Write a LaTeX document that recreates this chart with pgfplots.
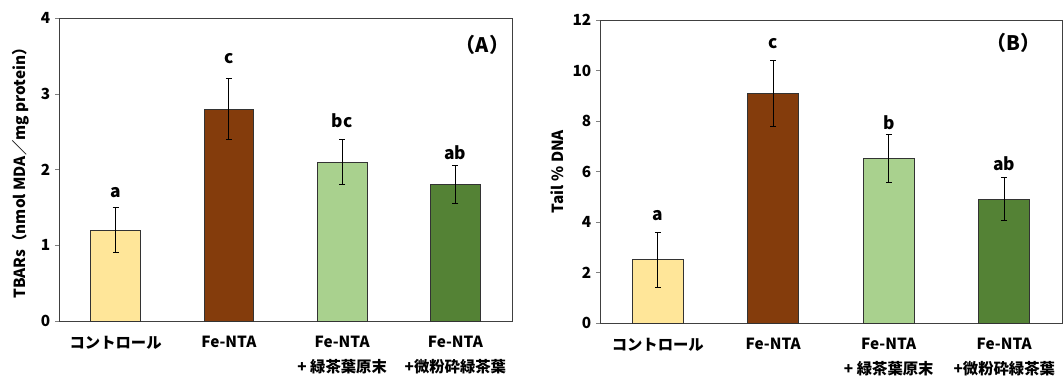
\documentclass[border=0pt]{standalone}
\usepackage{fontspec}
\setmainfont{Noto Sans CJK JP}
\usepackage{pgfplots}
\pgfplotsset{compat=1.18}
\definecolor{cY}{HTML}{FFE699}
\definecolor{cBr}{HTML}{843C0C}
\definecolor{cLG}{HTML}{A9D18E}
\definecolor{cDG}{HTML}{548235}
\pgfplotsset{
  mybar/.style={
    scale only axis,
    xmin=-0.5, xmax=3.5,
    ymin=0,
    xtick={0,1,2,3},
    xticklabels={コントロール,Fe-NTA,Fe-NTA\\+ 緑茶葉原末,Fe-NTA\\+微粉砕緑茶葉},
    x tick label style={align=center, anchor=north, yshift=-5pt, font=\fontsize{11.5}{18.5}\selectfont\bfseries},
    y tick label style={font=\fontsize{11.5}{13}\selectfont\bfseries},
    /pgf/number format/assume math mode=true,
    major x tick style={draw=none},
    ytick pos=left, xtick pos=bottom,
    tick align=outside,
    major tick length=3pt,
    axis line style={black!75},
    ylabel style={font=\fontsize{11.5}{13}\selectfont\bfseries},
    ybar, bar width=0.44,
    bar shift=0pt,
    every axis plot/.append style={draw=black!80, line width=0.6pt},
    error bars/y dir=both, error bars/y explicit,
    error bars/error bar style={black, line width=0.6pt},
    error bars/error mark options={rotate=90, mark size=2.2pt, black, line width=0.6pt},
  }
}
\begin{document}
\begin{tikzpicture}[x=1pt,y=1pt]
\useasboundingbox (0,0) rectangle (798,282);
\begin{axis}[mybar, at={(44.25pt,41.25pt)}, anchor=south west,
  width=339.75pt, height=227.25pt,
  ymax=4, ytick={0,1,2,3,4},
  ylabel={TBARs（nmol MDA／mg protein）},
  ylabel style={yshift=2pt}]
\addplot[fill=cY] coordinates {(0,1.2) +- (0,0.3)};
\addplot[fill=cBr] coordinates {(1,2.8) +- (0,0.4)};
\addplot[fill=cLG] coordinates {(2,2.1) +- (0,0.3)};
\addplot[fill=cDG] coordinates {(3,1.8) +- (0,0.25)};
\node[font=\fontsize{13}{15}\selectfont\bfseries] at (axis cs:0,1.70) {a};
\node[font=\fontsize{13}{15}\selectfont\bfseries] at (axis cs:1,3.47) {c};
\node[font=\fontsize{13}{15}\selectfont\bfseries] at (axis cs:2,2.64) {bc};
\node[font=\fontsize{13}{15}\selectfont\bfseries] at (axis cs:3,2.22) {ab};
\node[font=\fontsize{15}{17}\selectfont\bfseries] at (axis cs:3.24,3.64) {（A）};
\end{axis}
\begin{axis}[mybar, at={(450pt,39.75pt)}, anchor=south west,
  width=346.5pt, height=227.25pt,
  ymax=12, ytick={0,2,4,6,8,10,12},
  ylabel={Tail \% DNA},
  ylabel style={yshift=0pt}]
\addplot[fill=cY] coordinates {(0,2.5) +- (0,1.1)};
\addplot[fill=cBr] coordinates {(1,9.1) +- (0,1.3)};
\addplot[fill=cLG] coordinates {(2,6.5) +- (0,0.95)};
\addplot[fill=cDG] coordinates {(3,4.9) +- (0,0.85)};
\node[font=\fontsize{13}{15}\selectfont\bfseries] at (axis cs:0,4.24) {a};
\node[font=\fontsize{13}{15}\selectfont\bfseries] at (axis cs:1,11.05) {c};
\node[font=\fontsize{13}{15}\selectfont\bfseries] at (axis cs:2,7.92) {b};
\node[font=\fontsize{13}{15}\selectfont\bfseries] at (axis cs:3,6.3) {ab};
\node[font=\fontsize{15}{17}\selectfont\bfseries] at (axis cs:3.08,11.09) {（B）};
\end{axis}
\end{tikzpicture}
\end{document}
